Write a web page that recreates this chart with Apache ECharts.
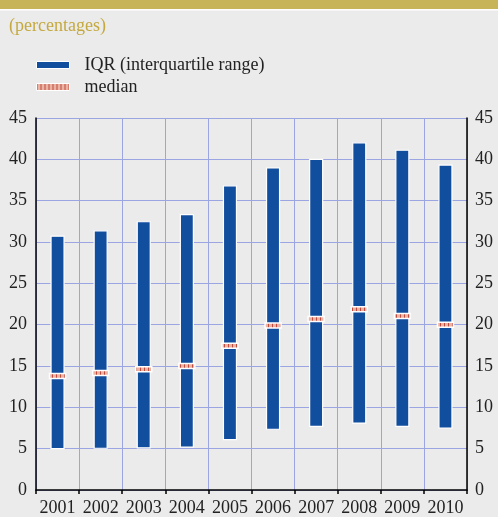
<!DOCTYPE html>
<html>
<head>
<meta charset="utf-8">
<script src="https://cdn.jsdelivr.net/npm/echarts@6/dist/echarts.min.js"></script>
<style>
  html, body { margin: 0; padding: 0; background: #ebebeb; }
  #chart { width: 498px; height: 517px; }
</style>
</head>
<body>
<div id="chart"></div>
<script>
// years on the x axis
var years = ['2001', '2002', '2003', '2004', '2005', '2006', '2007', '2008', '2009', '2010'];
// lower quartile (bottom of bar)
var q1 = [5.0, 5.05, 5.1, 5.2, 6.1, 7.35, 7.7, 8.1, 7.7, 7.5];
// upper quartile (top of bar)
var q3 = [30.7, 31.35, 32.45, 33.3, 36.8, 38.95, 40.0, 42.0, 41.1, 39.3];
// median marker
var median = [13.8, 14.15, 14.6, 15.0, 17.45, 19.9, 20.7, 21.85, 21.05, 20.0];

var font = '"Liberation Serif", "DejaVu Serif", serif';
var blue = '#124e9e';

// striped fill for the median marker
var cv = document.createElement('canvas');
cv.width = 4; cv.height = 4;
var cx = cv.getContext('2d');
cx.fillStyle = '#eab4a4';
cx.fillRect(0, 0, 4, 4);
cx.fillStyle = '#c24a3c';
cx.fillRect(0, 0, 1, 4);
var stripe = { image: cv, repeat: 'repeat' };

var iqrData = years.map(function (y, i) { return [i, q1[i], q3[i]]; });
var medData = years.map(function (y, i) { return [i, median[i]]; });

var chart = echarts.init(document.getElementById('chart'));
chart.setOption({
  backgroundColor: '#ebebeb',
  animation: false,
  graphic: [
    { type: 'rect', left: 0, top: 0, shape: { width: 498, height: 9 }, style: { fill: '#c8b458' } },
    { type: 'rect', left: 0, top: 9, shape: { width: 498, height: 1.5 }, style: { fill: '#ffffff' } },
    { type: 'text', left: 9, top: 17, style: { text: '(percentages)', fill: '#c4a93e', font: '18px ' + font } }
  ],
  legend: {
    orient: 'vertical',
    left: 31,
    top: 51,
    itemWidth: 33,
    itemHeight: 7,
    itemGap: 4,
    textStyle: { fontFamily: font, fontSize: 18, color: '#222', padding: [0, 0, 0, 10] },
    data: [
      { name: 'IQR (interquartile range)', icon: 'rect', itemStyle: { color: blue, borderColor: '#fff', borderWidth: 1 } },
      { name: 'median', icon: 'rect', itemStyle: { color: stripe, borderColor: '#fff', borderWidth: 1 } }
    ]
  },
  grid: { left: 36, right: 31, top: 118, bottom: 27 },
  xAxis: {
    type: 'category',
    data: years,
    boundaryGap: true,
    axisLine: { lineStyle: { color: '#000', width: 1.5 } },
    axisTick: { show: true, interval: 0, length: 4, lineStyle: { color: '#000', width: 1.5 } },
    axisLabel: { interval: 0, fontFamily: font, fontSize: 18, color: '#222', margin: 9 },
    splitLine: { show: true, interval: 0, lineStyle: { color: '#9aa5e2', width: 1 } }
  },
  yAxis: [
    {
      type: 'value', min: 0, max: 45, interval: 5,
      axisLine: { show: true, lineStyle: { color: '#000', width: 1.5 } },
      axisTick: { show: false },
      axisLabel: { fontFamily: font, fontSize: 18, color: '#222', margin: 9 },
      splitLine: { lineStyle: { color: '#9aa5e2', width: 1 } }
    },
    {
      type: 'value', min: 0, max: 45, interval: 5, position: 'right',
      axisLine: { show: true, lineStyle: { color: '#000', width: 1.5 } },
      axisTick: { show: false },
      axisLabel: { fontFamily: font, fontSize: 18, color: '#222', margin: 8 },
      splitLine: { show: false }
    }
  ],
  series: [
    {
      name: 'IQR (interquartile range)',
      type: 'custom',
      itemStyle: { color: blue },
      data: iqrData,
      renderItem: function (params, api) {
        var lo = api.coord([api.value(0), api.value(1)]);
        var hi = api.coord([api.value(0), api.value(2)]);
        var w = 13;
        return {
          type: 'rect',
          shape: { x: lo[0] - w / 2, y: hi[1], width: w, height: lo[1] - hi[1] },
          style: { fill: blue, stroke: '#fff', lineWidth: 1.2 }
        };
      }
    },
    {
      name: 'median',
      type: 'custom',
      itemStyle: { color: stripe },
      data: medData,
      z: 3,
      renderItem: function (params, api) {
        var p = api.coord([api.value(0), api.value(1)]);
        var w = 16, h = 5;
        return {
          type: 'rect',
          shape: { x: p[0] - w / 2, y: p[1] - h / 2, width: w, height: h },
          style: { fill: stripe, stroke: '#fff', lineWidth: 1.5 }
        };
      }
    }
  ]
});
</script>
</body>
</html>
